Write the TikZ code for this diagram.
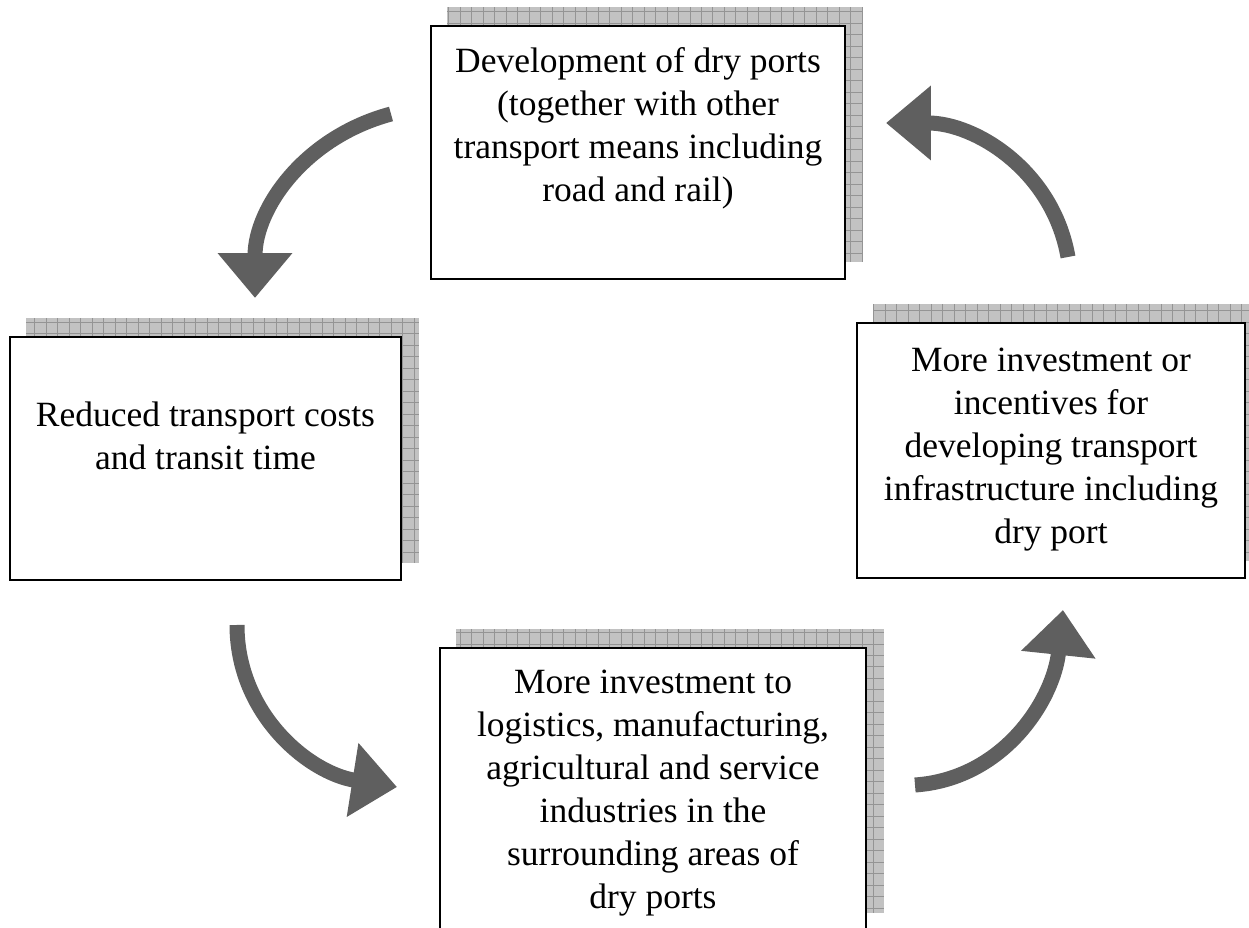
\documentclass[tikz,border=0pt]{standalone}
\usepackage{fontspec}
\setmainfont{Liberation Serif}
\usetikzlibrary{arrows.meta,positioning,backgrounds}

\definecolor{arrowgray}{HTML}{5F5F5F}
\definecolor{shadowgray}{HTML}{C2C2C2}
\definecolor{gridgray}{HTML}{949494}

\tikzset{
  stagebox/.style={draw=black,line width=0.8pt,fill=white,inner sep=0pt},
  stagetext/.style={inner sep=0pt,align=center,font=\fontsize{20.2}{24.5}\selectfont},
  cyclearrow/.style={draw=arrowgray,line width=0.3cm,
    -{Triangle[width=1.44cm,length=0.9cm]}}
}

\begin{document}
\begin{tikzpicture}[x=0.02cm,y=0.02cm]
    \useasboundingbox (0,0) rectangle (1249,-928);
    \clip (0,0) rectangle (1249,-928);

    % the four stages
    \node[stagebox,minimum width=8.28cm,minimum height=5.06cm] (dev) at (638,-152.5) {};
    \node[stagebox,minimum width=7.82cm,minimum height=4.86cm] (cost) at (205.5,-458.5) {};
    \node[stagebox,minimum width=7.76cm,minimum height=5.10cm] (invest) at (1051,-450.5) {};
    \node[stagebox,minimum width=8.52cm,minimum height=5.64cm] (industry) at (653,-789) {};

    \node[stagetext,below=0.44cm of dev.north] (devtext)
        {Development of dry ports\\(together with other\\transport means including\\road and rail)};
    \node[stagetext,below=1.3cm of cost.north] (costtext)
        {Reduced transport costs\\and transit time};
    \node[stagetext,below=0.5cm of invest.north] (investtext)
        {More investment or\\incentives for\\developing transport\\infrastructure including\\dry port};
    \node[stagetext,below=0.44cm of industry.north] (industrytext)
        {More investment to\\logistics, manufacturing,\\agricultural and service\\industries in the\\surrounding areas of\\dry ports};

    % grid shadows behind the boxes
    \begin{scope}[on background layer]
        \foreach \n in {dev,cost,invest,industry} {
            \fill[shadowgray] ([shift={(17,18)}]\n.south west) rectangle ([shift={(17,18)}]\n.north east);
            \draw[gridgray,line width=0.4pt,step=0.23cm] ([shift={(17,18)}]\n.south west) grid ([shift={(17,18)}]\n.north east);
        }
    \end{scope}

    % cycle arrows
    \coordinate (devout) at (391,-114);
    \coordinate (costin) at (255,-298);
    \coordinate (costout) at (237,-625);
    \coordinate (industryin) at (397,-787);
    \coordinate (industryout) at (915,-785);
    \coordinate (investin) at (1063,-610);
    \coordinate (investout) at (1068,-257);
    \coordinate (devin) at (886,-123);

    \draw[cyclearrow] (devout) to[out=195,in=90] (costin);
    \draw[cyclearrow] (costout) to[out=-90,in=171] (industryin);
    \draw[cyclearrow] (industryout) to[out=4,in=264] (investin);
    \draw[cyclearrow] (investout) to[out=100,in=0] (devin);
\end{tikzpicture}
\end{document}
